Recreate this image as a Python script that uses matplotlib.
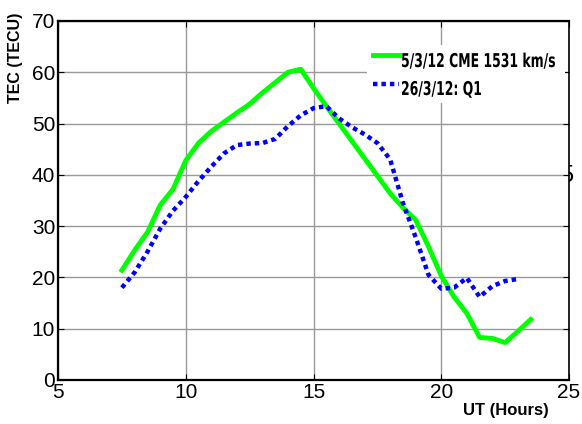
import matplotlib
matplotlib.use("Agg")
import matplotlib.pyplot as plt
from matplotlib.textpath import TextPath
from matplotlib.patches import PathPatch, Rectangle
from matplotlib.font_manager import FontProperties
from matplotlib.transforms import Affine2D, IdentityTransform
from matplotlib.lines import Line2D

# 5/3/12 CME day (green solid)
ut_cme = [7.5, 8.0, 8.5, 9.0, 9.5, 10.0, 10.5, 11.0, 11.5, 12.0, 12.5, 13.0, 13.5,
          14.0, 14.5, 15.0, 15.5, 16.0, 16.5, 17.0, 17.5, 18.0, 18.5, 19.0, 19.5,
          20.0, 20.5, 21.0, 21.5, 22.0, 22.5, 23.0, 23.5]
tec_cme = [21.4, 25.3, 28.8, 34.1, 37.2, 42.8, 46.2, 48.5, 50.3, 52.1, 53.8, 56.0, 58.0,
           60.0, 60.6, 56.9, 53.4, 50.0, 46.6, 43.2, 39.8, 36.4, 33.6, 31.2, 26.0,
           20.3, 16.2, 13.0, 8.3, 8.1, 7.3, 9.5, 11.8]

# 26/3/12 quiet day Q1 (blue dotted)
ut_q1 = [7.5, 8.0, 8.5, 9.0, 9.5, 10.0, 10.5, 11.0, 11.5, 12.0, 12.5, 13.0, 13.5,
         14.0, 14.5, 15.0, 15.5, 16.0, 16.5, 17.0, 17.5, 18.0, 18.5, 19.0, 19.5,
         20.0, 20.5, 21.0, 21.5, 22.0, 22.5, 23.0]
tec_q1 = [18.0, 21.0, 25.0, 29.5, 33.0, 35.7, 38.8, 41.6, 44.2, 45.8, 46.1, 46.2, 47.0,
          49.5, 51.6, 53.0, 53.4, 51.0, 49.3, 47.9, 46.2, 43.0, 34.5, 27.8, 20.5,
          17.8, 18.0, 19.9, 16.2, 18.3, 19.3, 19.7]

labels = ["5/3/12 CME 1531 km/s", "26/3/12: Q1"]
colors = ['#00ff00', '#0000ff']

plt.rcParams['font.family'] = ['Liberation Sans', 'DejaVu Sans']

W, H = 582, 424
fig = plt.figure(figsize=(W / 100, H / 100), dpi=100)
ax = fig.add_axes([0.0997, 0.1038, 0.8780, 0.8467])

ax.plot(ut_cme, tec_cme, color=colors[0], lw=3.5, zorder=3)
ax.plot(ut_q1, tec_q1, color=colors[1], lw=3.2, linestyle=(0, (1, 0.9)), zorder=3)

ax.set_xlim(5, 25)
ax.set_ylim(0, 70)
ax.set_xticks([5, 10, 15, 20, 25])
ax.set_yticks(range(0, 71, 10))
ax.tick_params(direction='in', top=True, right=True, labelsize=15, length=4, pad=2)
ax.grid(True, color='#999999', lw=1)
for s in ax.spines.values():
    s.set_linewidth(1.6)
ax.spines['right'].set_linewidth(1.2)

ax.set_ylabel("TEC (TECU)", fontsize=11.5, fontweight='bold')
ax.yaxis.set_label_coords(-0.068, 0.897)
ax.text(0.877, -0.085, "UT (Hours)", transform=ax.transAxes, fontsize=12,
        fontweight='bold', ha='center', va='center')


def img_y(y):
    return H - y


# legend, drawn by hand with a narrow bold face (pixel layout)
ax.add_patch(Rectangle((367, img_y(103)), 198, 58, transform=IdentityTransform(),
                       facecolor='white', edgecolor='none', zorder=2, clip_on=False))
fp = FontProperties(family='DejaVu Sans', weight='bold')
paths = [TextPath((0, 0), lab, size=19, prop=fp) for lab in labels]
sx = 153 / paths[0].get_extents().width
styles = ['-', (0, (1, 0.9))]
widths = [3.5, 3.2]
for p, c, ls, lw, hy, by in zip(paths, colors, styles, widths, [55, 84], [67, 95]):
    x0 = p.get_extents().x0
    tr = Affine2D().translate(-x0, 0).scale(sx, 1).translate(402, img_y(by))
    ax.add_patch(PathPatch(p, transform=tr, facecolor='black', edgecolor='none',
                           zorder=4, clip_on=False))
    ax.add_line(Line2D([373, 399], [img_y(hy)] * 2, transform=IdentityTransform(),
                       color=c, lw=lw, linestyle=ls, zorder=4, clip_on=False))

# stray glyph peeking out behind the right edge of the axes
fig.text(0.962, 0.585, "5", fontsize=17, ha='left', va='center', zorder=-1)

fig.savefig("out.png", dpi=100)
